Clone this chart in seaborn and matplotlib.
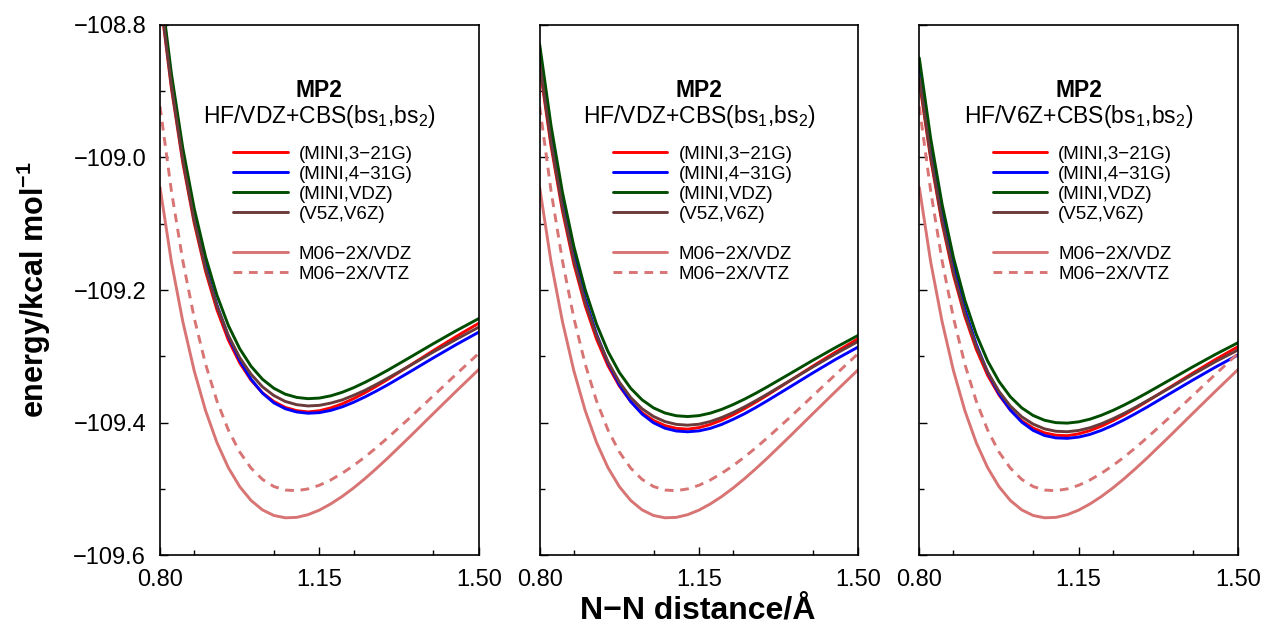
import matplotlib
matplotlib.use("Agg")
import matplotlib.pyplot as plt
import matplotlib.ticker as mticker
from matplotlib.lines import Line2D
import pandas as pd
import seaborn as sns

# N-N distance grid (Angstrom)
r = [0.800, 0.825, 0.850, 0.875, 0.900, 0.925, 0.950, 0.975, 1.000, 1.025, 1.050, 1.075, 1.100,
     1.125, 1.150, 1.175, 1.200, 1.225, 1.250, 1.275, 1.300, 1.350, 1.400, 1.450, 1.500]

# panel 1: HF/VDZ + CBS(bs1,bs2)
p1_red = [-108.7575, -108.8954, -109.0077, -109.0987, -109.1718, -109.2299, -109.2755, -109.3101, -109.3362,
          -109.3552, -109.3683, -109.3772, -109.3821, -109.3840, -109.3822, -109.3779, -109.3718, -109.3640,
          -109.3551, -109.3453, -109.3350, -109.3134, -109.2915, -109.2703, -109.2501]
p1_blue = [-108.7485, -108.8864, -108.9987, -109.0897, -109.1628, -109.2229, -109.2700, -109.3066, -109.3347,
           -109.3557, -109.3703, -109.3792, -109.3841, -109.3860, -109.3851, -109.3817, -109.3764, -109.3695,
           -109.3614, -109.3525, -109.3431, -109.3230, -109.3025, -109.2826, -109.2636]
p1_green = [-108.7355, -108.8734, -108.9857, -109.0767, -109.1498, -109.2079, -109.2535, -109.2886, -109.3152,
            -109.3347, -109.3483, -109.3572, -109.3621, -109.3640, -109.3631, -109.3597, -109.3544, -109.3475,
            -109.3394, -109.3305, -109.3211, -109.3012, -109.2811, -109.2616, -109.2431]
p1_brown = [-108.7535, -108.8914, -109.0037, -109.0947, -109.1678, -109.2244, -109.2685, -109.3021, -109.3272,
            -109.3462, -109.3593, -109.3682, -109.3731, -109.3750, -109.3741, -109.3707, -109.3659, -109.3590,
            -109.3514, -109.3425, -109.3331, -109.3137, -109.2936, -109.2746, -109.2561]

# panel 2: HF/VDZ + CBS(bs1,bs2)
p2_red = [-108.8623, -108.9826, -109.0805, -109.1605, -109.2236, -109.2743, -109.3143, -109.3450, -109.3684,
          -109.3853, -109.3969, -109.4046, -109.4088, -109.4100, -109.4077, -109.4029, -109.3963, -109.3882,
          -109.3790, -109.3691, -109.3586, -109.3368, -109.3148, -109.2936, -109.2733]
p2_blue = [-108.8373, -108.9616, -109.0635, -109.1460, -109.2131, -109.2668, -109.3098, -109.3430, -109.3684,
           -109.3873, -109.4004, -109.4086, -109.4128, -109.4140, -109.4126, -109.4088, -109.4028, -109.3952,
           -109.3867, -109.3772, -109.3671, -109.3462, -109.3251, -109.3047, -109.2858]
p2_green = [-108.8293, -108.9521, -109.0525, -109.1340, -109.1996, -109.2518, -109.2928, -109.3245, -109.3484,
            -109.3658, -109.3779, -109.3856, -109.3898, -109.3910, -109.3896, -109.3858, -109.3801, -109.3729,
            -109.3647, -109.3557, -109.3461, -109.3262, -109.3061, -109.2867, -109.2683]
p2_brown = [-108.8573, -108.9776, -109.0755, -109.1550, -109.2186, -109.2688, -109.3083, -109.3390, -109.3624,
            -109.3793, -109.3909, -109.3986, -109.4028, -109.4040, -109.4026, -109.3985, -109.3924, -109.3849,
            -109.3764, -109.3670, -109.3571, -109.3367, -109.3161, -109.2962, -109.2773]

# panel 3: HF/V6Z + CBS(bs1,bs2)
p3_red = [-108.8848, -109.0023, -109.0990, -109.1775, -109.2396, -109.2893, -109.3286, -109.3585, -109.3812,
          -109.3974, -109.4084, -109.4156, -109.4192, -109.4199, -109.4171, -109.4122, -109.4054, -109.3973,
          -109.3883, -109.3785, -109.3682, -109.3470, -109.3257, -109.3050, -109.2855]
p3_blue = [-108.8578, -108.9808, -109.0815, -109.1630, -109.2291, -109.2818, -109.3241, -109.3565, -109.3812,
           -109.3994, -109.4119, -109.4196, -109.4232, -109.4239, -109.4220, -109.4179, -109.4118, -109.4043,
           -109.3958, -109.3865, -109.3768, -109.3565, -109.3362, -109.3165, -109.2980]
p3_green = [-108.8498, -108.9713, -109.0705, -109.1510, -109.2156, -109.2668, -109.3071, -109.3380, -109.3612,
            -109.3779, -109.3894, -109.3966, -109.4002, -109.4009, -109.3990, -109.3949, -109.3890, -109.3818,
            -109.3736, -109.3647, -109.3553, -109.3358, -109.3162, -109.2973, -109.2795]
p3_brown = [-108.8798, -108.9983, -109.0950, -109.1730, -109.2356, -109.2848, -109.3236, -109.3530, -109.3752,
            -109.3914, -109.4024, -109.4096, -109.4132, -109.4139, -109.4120, -109.4079, -109.4018, -109.3944,
            -109.3861, -109.3770, -109.3673, -109.3478, -109.3277, -109.3083, -109.2905]

# M06-2X reference curves (identical in every panel)
m06_vdz = [-109.0450, -109.1576, -109.2475, -109.3217, -109.3820, -109.4303, -109.4681, -109.4968, -109.5177,
           -109.5319, -109.5403, -109.5438, -109.5432, -109.5391, -109.5322, -109.5228, -109.5116, -109.4988,
           -109.4847, -109.4695, -109.4537, -109.4205, -109.3866, -109.3530, -109.3200]
m06_vtz = [-108.9230, -109.0505, -109.1558, -109.2420, -109.3119, -109.3676, -109.4112, -109.4445, -109.4689,
           -109.4859, -109.4966, -109.5019, -109.5029, -109.5002, -109.4947, -109.4867, -109.4766, -109.4650,
           -109.4520, -109.4380, -109.4231, -109.3920, -109.3597, -109.3274, -109.2956]

methods = ["(MINI,3\u221221G)", "(MINI,4\u221231G)", "(MINI,VDZ)", "(V5Z,V6Z)",
           "M06\u22122X/VDZ", "M06\u22122X/VTZ"]
hf_basis = ["VDZ", "VDZ", "V6Z"]
panels = [
    [p1_red, p1_blue, p1_green, p1_brown, m06_vdz, m06_vtz],
    [p2_red, p2_blue, p2_green, p2_brown, m06_vdz, m06_vtz],
    [p3_red, p3_blue, p3_green, p3_brown, m06_vdz, m06_vtz],
]

colors = dict(zip(methods, ["#ff0000", "#0000ff", "#004d00", "#6b3b3b", "#d87474", "#d87474"]))
dash_map = dict(zip(methods, ["", "", "", "", "", (3.0, 2.3)]))
LW = 2.1

sns.set_theme(style="white")
plt.rcParams.update({
    "font.family": ["Liberation Sans", "DejaVu Sans"],
    "mathtext.fontset": "custom",
    "mathtext.rm": "Liberation Sans",
    "mathtext.it": "Liberation Sans:italic",
    "mathtext.bf": "Liberation Sans:bold",
    "text.color": "black",
    "axes.labelcolor": "black",
    "xtick.color": "black",
    "ytick.color": "black",
    "axes.edgecolor": "black",
    "axes.linewidth": 1.2,
    "axes.unicode_minus": True,
})

fig, axes = plt.subplots(1, 3, figsize=(12.65, 6.29), dpi=100, sharey=True)
fig.subplots_adjust(left=0.1265, right=0.9787, bottom=0.1176, top=0.9603, wspace=0.191)

for i, ax in enumerate(axes):
    df = pd.DataFrame({
        "r": r * len(methods),
        "E": [v for series in panels[i] for v in series],
        "method": [m for m in methods for _ in r],
    })
    sns.lineplot(data=df, x="r", y="E", hue="method", style="method",
                 hue_order=methods, style_order=methods, palette=colors,
                 dashes=dash_map, lw=LW, legend=False, ax=ax)

    ax.set_xlim(0.80, 1.50)
    ax.set_ylim(-109.6, -108.8)
    ax.set_xticks([0.80, 1.15, 1.50])
    ax.xaxis.set_minor_locator(mticker.MultipleLocator(0.175))
    ax.yaxis.set_major_locator(mticker.MultipleLocator(0.2))
    ax.yaxis.set_minor_locator(mticker.MultipleLocator(0.1))
    ax.xaxis.set_major_formatter(mticker.StrMethodFormatter("{x:.2f}"))
    ax.yaxis.set_major_formatter(mticker.StrMethodFormatter("{x:.1f}"))
    ax.tick_params(which="both", direction="in", left=True, bottom=True,
                   top=False, right=False, width=1.0, color="black",
                   labelsize=17, labelcolor="black", pad=10)
    ax.tick_params(which="major", length=6)
    ax.tick_params(which="minor", length=3.6)
    if i > 0:
        ax.tick_params(labelleft=False)
    ax.set_xlabel("")
    ax.set_ylabel("")

    ax.text(0.5, 0.8636, "MP2", transform=ax.transAxes, ha="center",
            va="baseline", fontsize=16.5, fontweight="bold")
    ax.text(0.5, 0.815, f"HF/{hf_basis[i]}+CBS(bs$_1$,bs$_2$)", transform=ax.transAxes,
            ha="center", va="baseline", fontsize=16.5)

    handles = [Line2D([], [], color=colors[m], lw=LW) for m in methods[:4]]
    handles.append(Line2D([], [], color="none"))
    handles.append(Line2D([], [], color=colors[methods[4]], lw=LW))
    handles.append(Line2D([], [], color=colors[methods[5]], lw=LW, dashes=dash_map[methods[5]]))
    labels = methods[:4] + [" "] + methods[4:]
    ax.legend(handles, labels, loc="upper left", bbox_to_anchor=(0.23, 0.772),
              frameon=False, fontsize=13.5, handlelength=2.9, handletextpad=0.59,
              labelspacing=0.15, borderpad=0, borderaxespad=0)

axes[0].set_ylabel("energy/kcal mol$^{\\mathbf{-1}}$", fontsize=22, fontweight="bold")
axes[0].yaxis.set_label_coords(-0.336, 0.5)
fig.text(0.5516, 1 - 612 / 629, "N\u2212N distance/\u00c5", ha="center", va="center",
         fontsize=23, fontweight="bold")

fig.savefig("out.png", dpi=100)
